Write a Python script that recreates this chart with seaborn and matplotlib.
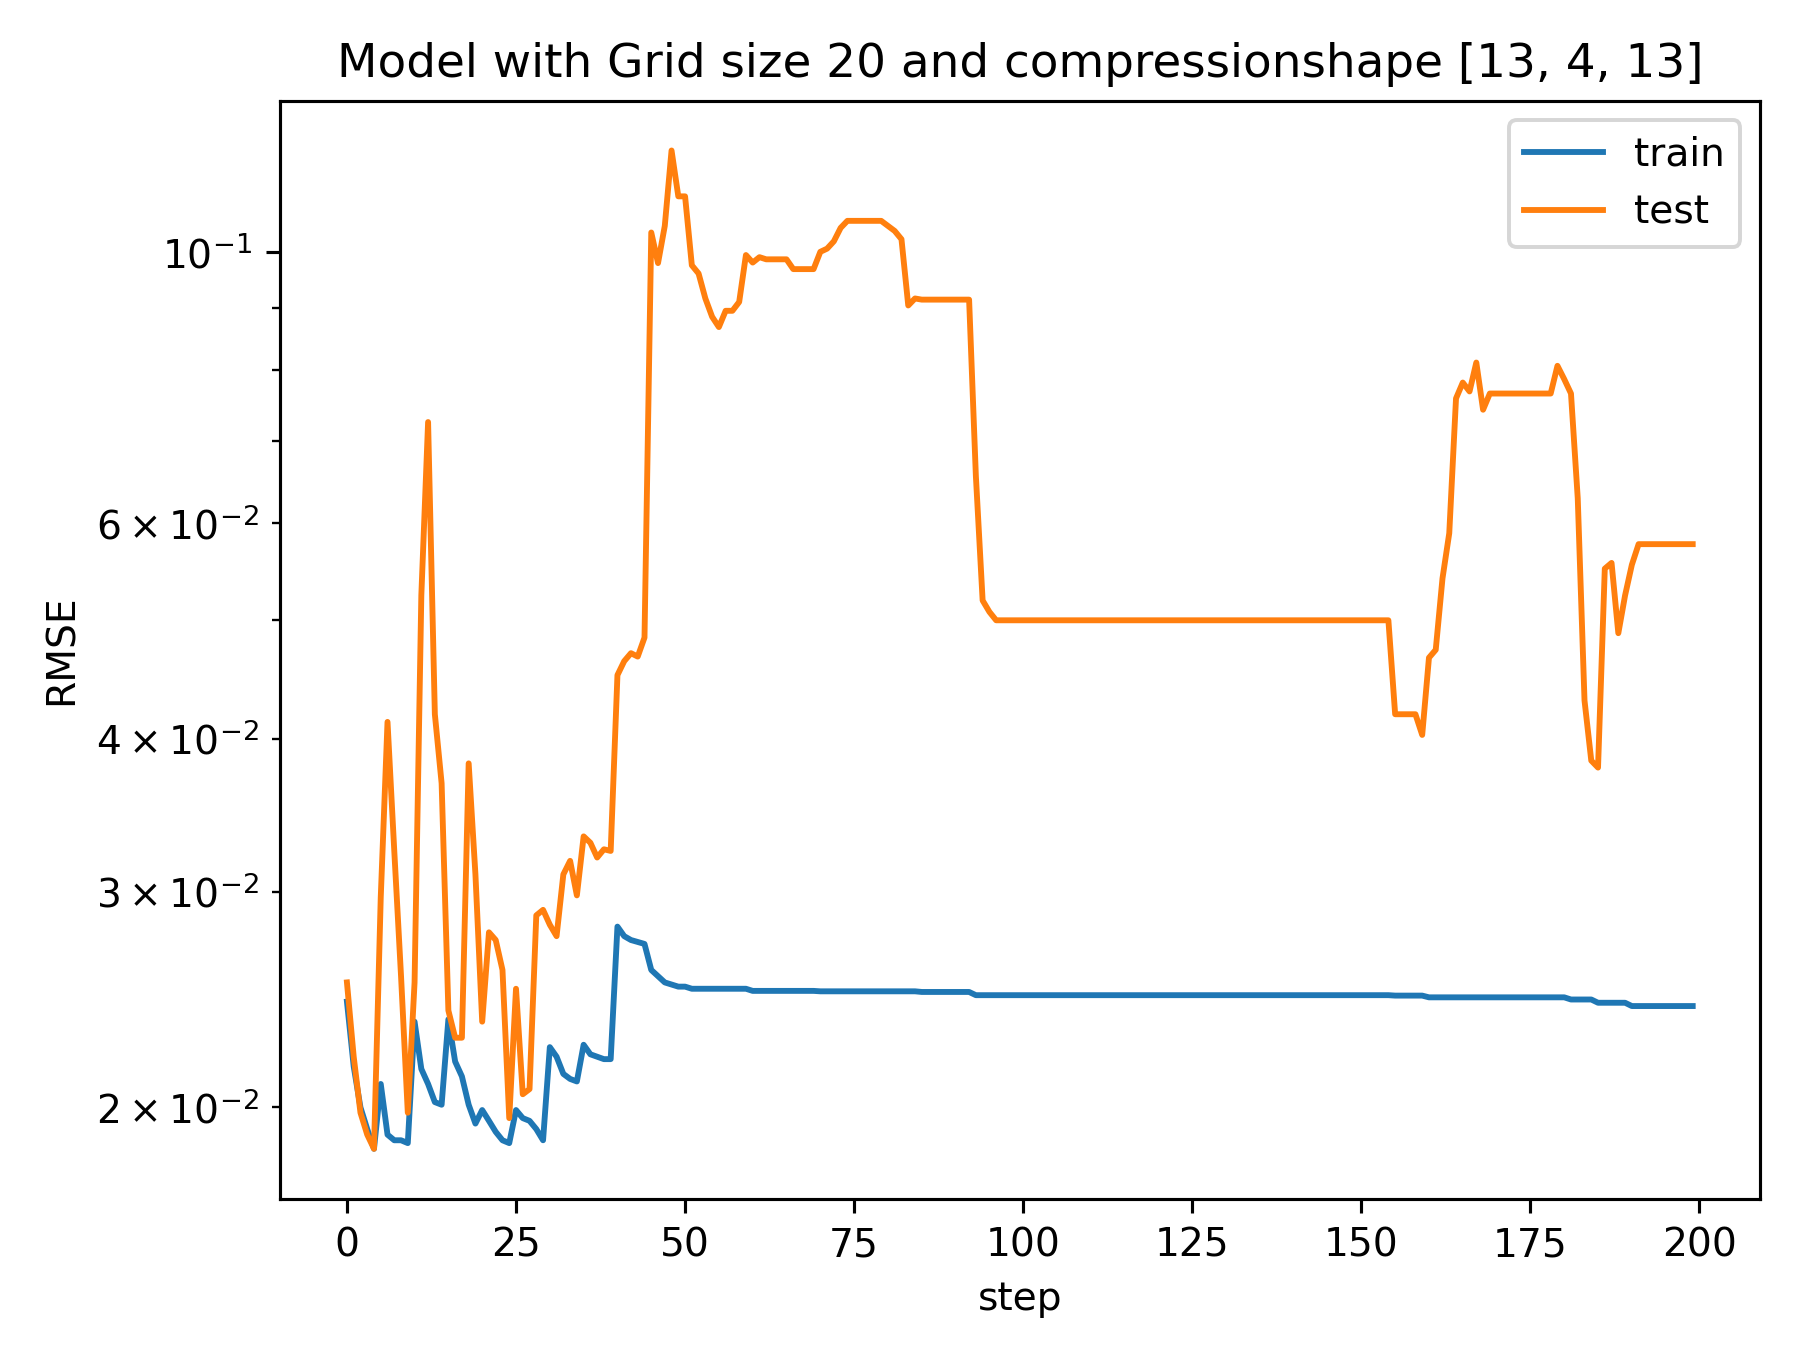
import numpy as np
import pandas as pd
import matplotlib
matplotlib.use("Agg")
import matplotlib.pyplot as plt
import seaborn as sns

steps = list(range(200))
test = ([0.0253, 0.022, 0.0198, 0.0190, 0.0185, 0.0297, 0.0413, 0.0324, 0.0256, 0.0198,
         0.0253, 0.0524, 0.0726, 0.0419, 0.0368, 0.0240, 0.0228, 0.0228, 0.0382, 0.0310,
         0.0235, 0.0278, 0.0274, 0.0259, 0.0196, 0.0250, 0.0205, 0.0207, 0.0287, 0.0290,
         0.0282, 0.0276, 0.0310, 0.0318, 0.0298, 0.0333, 0.0329, 0.0320, 0.0325, 0.0324,
         0.0451, 0.0463, 0.0470, 0.0467, 0.0484, 0.1037, 0.0979, 0.1050, 0.121, 0.111,
         0.111, 0.0975, 0.096, 0.0916, 0.0885, 0.0868, 0.0895, 0.0895, 0.091, 0.0994,
         0.098, 0.099, 0.0986, 0.0986, 0.0986, 0.0986]
        + [0.0968] * 4
        + [0.1, 0.1006, 0.102, 0.1046, 0.106]
        + [0.106] * 5
        + [0.105, 0.104, 0.1024, 0.0904, 0.0916]
        + [0.0914] * 8
        + [0.0656, 0.0519, 0.0508, 0.05]
        + [0.05] * 58
        + [0.0419] * 4
        + [0.0403, 0.0466, 0.0473, 0.0541, 0.0589, 0.0759, 0.0782, 0.0769, 0.0812, 0.0743, 0.0766]
        + [0.0766] * 9
        + [0.0807, 0.0787, 0.0766, 0.0629, 0.0430, 0.0384, 0.0379, 0.0551, 0.0557, 0.0488,
           0.0524, 0.0555, 0.0577]
        + [0.0577] * 8)
train = ([0.0244, 0.0216, 0.0200, 0.0192, 0.0185, 0.0209, 0.0190, 0.0188, 0.0188, 0.0187,
          0.0235, 0.0215, 0.0209, 0.0202, 0.0201, 0.0236, 0.0218, 0.0212, 0.0201, 0.0194,
          0.0199, 0.0195, 0.0191, 0.0188, 0.0187, 0.0199, 0.0196, 0.0195, 0.0192, 0.0188,
          0.0224, 0.0220, 0.0213, 0.0211, 0.0210, 0.0225, 0.0221, 0.0220, 0.0219, 0.0219,
          0.0281, 0.0276, 0.0274, 0.0273, 0.0272, 0.0259, 0.0256, 0.0253, 0.0252, 0.0251,
          0.0251]
         + [0.0250] * 9
         + [0.0249] * 10
         + [0.02488] * 15
         + [0.02485] * 8
         + [0.0247] * 62
         + [0.02468] * 5
         + [0.02460] * 21
         + [0.02450] * 4
         + [0.02435] * 5
         + [0.0242] * 10)

df = pd.DataFrame({"step": steps * 2, "RMSE": train + test,
                   "set": ["train"] * 200 + ["test"] * 200})

fig, ax = plt.subplots(figsize=(6.4, 4.83), dpi=281.6)
sns.lineplot(data=df, x="step", y="RMSE", hue="set",
             palette={"train": "#1f77b4", "test": "#ff7f0e"}, ax=ax)
ax.set_yscale("log")
ax.legend(title=None, loc="upper right")
ax.set_title("Model with Grid size 20 and compressionshape [13, 4, 13]")
fig.tight_layout()
fig.savefig("out.png")
